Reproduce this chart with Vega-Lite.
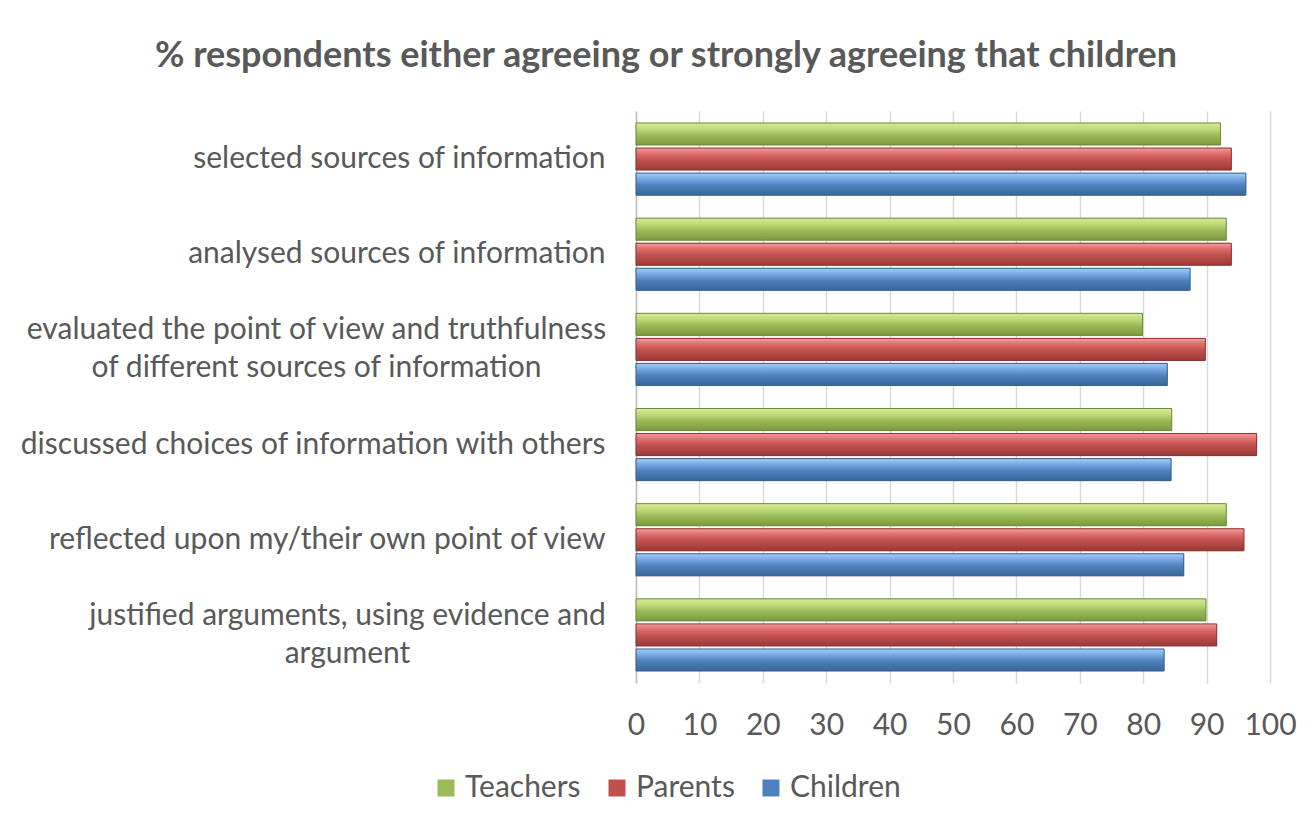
{
  "$schema": "https://vega.github.io/schema/vega-lite/v6.json",
  "width": 634,
  "height": 572,
  "autosize": "none",
  "padding": {"left": 636, "top": 111, "right": 42, "bottom": 138},
  "background": "white",
  "title": {
    "text": "% respondents either agreeing or strongly agreeing that children",
    "anchor": "middle",
    "dx": -287,
    "offset": 36,
    "font": "Lato",
    "fontSize": 36,
    "fontWeight": "bold",
    "color": "#595959"
  },
  "data": {
    "values": [
      {"statement": "selected sources of information", "group": "Teachers", "percent": 92.2},
      {"statement": "selected sources of information", "group": "Parents", "percent": 93.9},
      {"statement": "selected sources of information", "group": "Children", "percent": 96.2},
      {"statement": "analysed sources of information", "group": "Teachers", "percent": 93.1},
      {"statement": "analysed sources of information", "group": "Parents", "percent": 93.9},
      {"statement": "analysed sources of information", "group": "Children", "percent": 87.4},
      {"statement": "evaluated the point of view and truthfulness of different sources of information", "group": "Teachers", "percent": 79.9},
      {"statement": "evaluated the point of view and truthfulness of different sources of information", "group": "Parents", "percent": 89.8},
      {"statement": "evaluated the point of view and truthfulness of different sources of information", "group": "Children", "percent": 83.8},
      {"statement": "discussed choices of information with others", "group": "Teachers", "percent": 84.5},
      {"statement": "discussed choices of information with others", "group": "Parents", "percent": 97.9},
      {"statement": "discussed choices of information with others", "group": "Children", "percent": 84.4},
      {"statement": "reflected upon my/their own point of view", "group": "Teachers", "percent": 93.1},
      {"statement": "reflected upon my/their own point of view", "group": "Parents", "percent": 95.9},
      {"statement": "reflected upon my/their own point of view", "group": "Children", "percent": 86.4},
      {"statement": "justified arguments, using evidence and argument", "group": "Teachers", "percent": 89.9},
      {"statement": "justified arguments, using evidence and argument", "group": "Parents", "percent": 91.6},
      {"statement": "justified arguments, using evidence and argument", "group": "Children", "percent": 83.3}
    ]
  },
  "encoding": {
    "y": {
      "field": "statement",
      "type": "nominal",
      "sort": null,
      "scale": {"paddingInner": 0.21, "paddingOuter": 0.11},
      "axis": {
        "title": null,
        "domain": true,
        "domainColor": "#bfbfbf",
        "domainWidth": 1.5,
        "ticks": false,
        "labelFont": "Lato",
        "labelFontSize": 30,
        "labelColor": "#595959",
        "labelLimit": 700,
        "labelLineHeight": 38,
        "labelAlign": {"condition": {"test": "indexof(datum.label, 'truthfulness') >= 0 || indexof(datum.label, 'justified') >= 0", "value": "center"}, "value": "right"},
        "labelPadding": {"condition": [
          {"test": "indexof(datum.label, 'truthfulness') >= 0", "value": 320},
          {"test": "indexof(datum.label, 'justified') >= 0", "value": 289}
        ], "value": 31},
        "labelOffset": {"condition": {"test": "indexof(datum.label, 'truthfulness') >= 0 || indexof(datum.label, 'justified') >= 0", "value": -19}, "value": 0},
        "labelExpr": "datum.label == 'evaluated the point of view and truthfulness of different sources of information' ? ['evaluated the point of view and truthfulness', 'of different sources of information'] : datum.label == 'justified arguments, using evidence and argument' ? ['justified arguments, using evidence and', 'argument'] : datum.label"
      }
    },
    "yOffset": {
      "field": "group",
      "type": "nominal",
      "sort": ["Teachers", "Parents", "Children"],
      "scale": {"paddingInner": 0.12, "paddingOuter": 0.06}
    },
    "x": {
      "field": "percent",
      "type": "quantitative",
      "scale": {"domain": [0, 100], "nice": false},
      "axis": {
        "title": null,
        "values": [0, 10, 20, 30, 40, 50, 60, 70, 80, 90, 100],
        "domain": false,
        "ticks": false,
        "grid": true,
        "gridColor": "#d9d9d9",
        "gridWidth": 1.5,
        "labelFlush": false,
        "labelPadding": 27,
        "labelFont": "Lato",
        "labelFontSize": 30,
        "labelColor": "#595959"
      }
    }
  },
  "layer": [
    {
      "mark": {"type": "bar"},
      "encoding": {
        "color": {
          "field": "group",
          "type": "nominal",
          "sort": ["Teachers", "Parents", "Children"],
          "scale": {"domain": ["Teachers", "Parents", "Children"], "range": ["#9BBB59", "#C0504D", "#4F81BD"]},
          "legend": {
            "title": null,
            "orient": "none",
            "direction": "horizontal",
            "legendX": -205,
            "legendY": 662,
            "symbolType": "square",
            "symbolSize": 289,
            "symbolOpacity": 1,
            "symbolStrokeWidth": 0,
            "labelFont": "Lato",
            "labelFontSize": 30,
            "labelColor": "#595959",
            "columnPadding": 21,
            "labelOffset": 4
          }
        }
      }
    },
    {
      "transform": [{"filter": "datum.group == 'Teachers'"}],
      "mark": {
        "type": "bar",
        "stroke": "#6f8a3a",
        "strokeWidth": 1,
        "color": {"gradient": "linear", "x1": 0, "y1": 0, "x2": 0, "y2": 1,
          "stops": [{"offset": 0, "color": "#d6ea9c"}, {"offset": 0.25, "color": "#c2dc7c"}, {"offset": 0.55, "color": "#9bbb59"}, {"offset": 1, "color": "#7a9a3e"}]}
      }
    },
    {
      "transform": [{"filter": "datum.group == 'Parents'"}],
      "mark": {
        "type": "bar",
        "stroke": "#8c3230",
        "strokeWidth": 1,
        "color": {"gradient": "linear", "x1": 0, "y1": 0, "x2": 0, "y2": 1,
          "stops": [{"offset": 0, "color": "#f0a09e"}, {"offset": 0.25, "color": "#e06e6b"}, {"offset": 0.55, "color": "#c0504d"}, {"offset": 1, "color": "#9a3a37"}]}
      }
    },
    {
      "transform": [{"filter": "datum.group == 'Children'"}],
      "mark": {
        "type": "bar",
        "stroke": "#36608f",
        "strokeWidth": 1,
        "color": {"gradient": "linear", "x1": 0, "y1": 0, "x2": 0, "y2": 1,
          "stops": [{"offset": 0, "color": "#a8cff5"}, {"offset": 0.25, "color": "#78aae6"}, {"offset": 0.55, "color": "#4f81bd"}, {"offset": 1, "color": "#3a6699"}]}
      }
    }
  ],
  "config": {
    "view": {"stroke": null}
  }
}
